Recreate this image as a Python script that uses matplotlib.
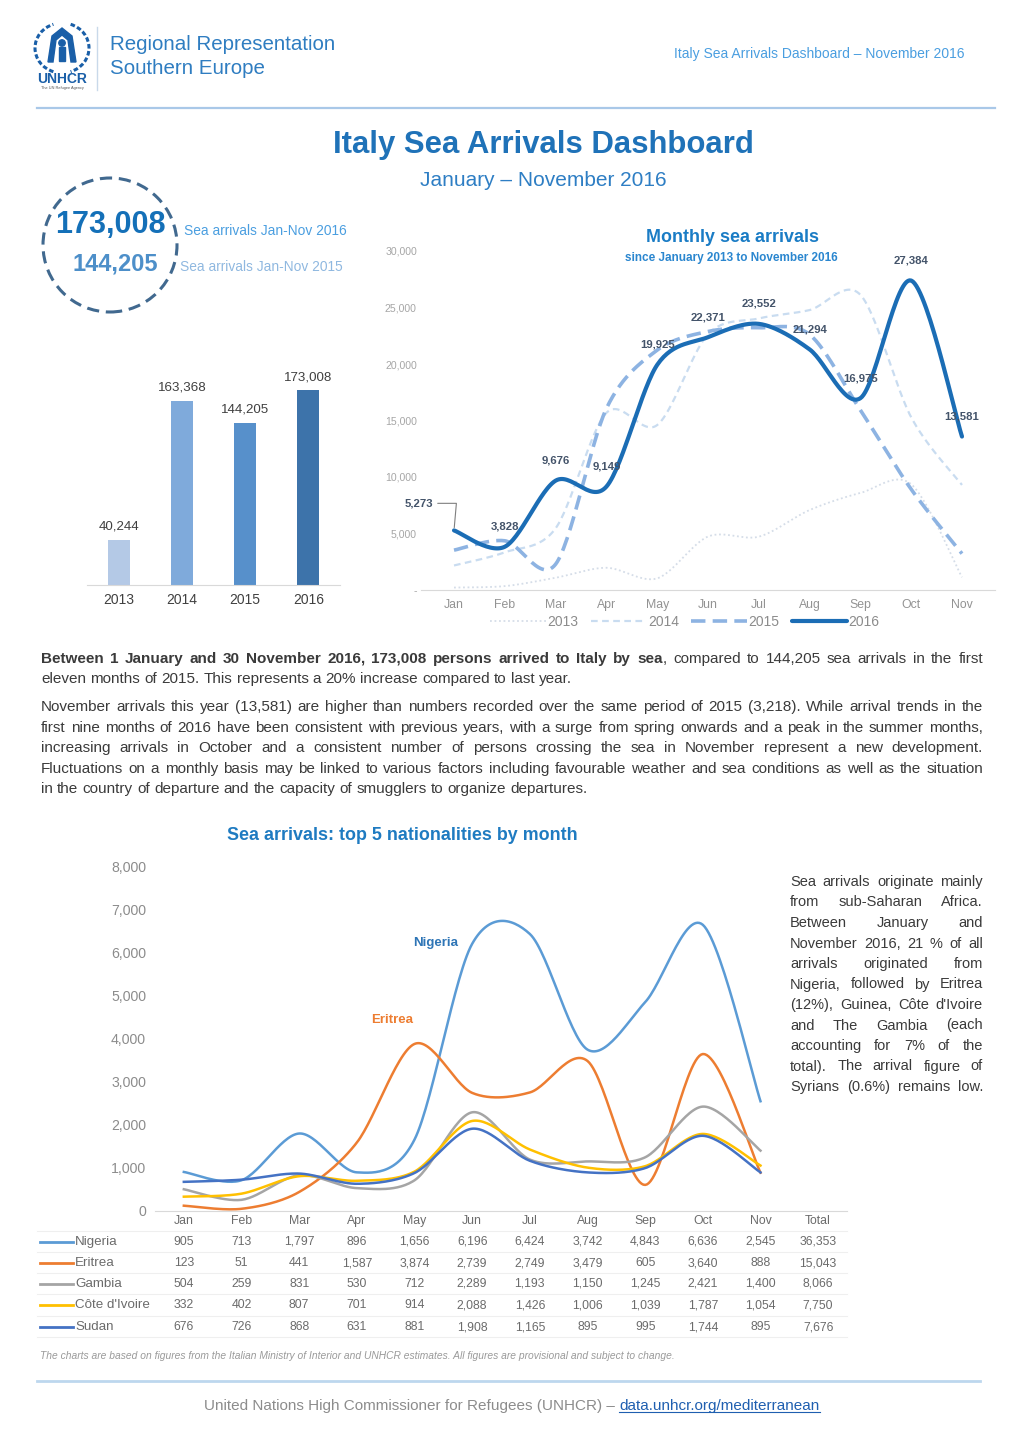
import matplotlib
matplotlib.use('Agg')
import matplotlib.pyplot as plt
import numpy as np
from matplotlib import font_manager as fm
from matplotlib.patches import Ellipse, Arc, Polygon, Circle, Rectangle
from matplotlib.lines import Line2D
import matplotlib.transforms as mtrans


def has_font(name):
    try:
        fm.findfont(fm.FontProperties(family=name), fallback_to_default=False)
        return True
    except Exception:
        return False


SANS = 'Liberation Sans' if has_font('Liberation Sans') else 'DejaVu Sans'
NARROW = 'Liberation Sans Narrow' if has_font('Liberation Sans Narrow') else SANS
plt.rcParams['font.family'] = [SANS, 'DejaVu Sans']

# ---------------- data ----------------
months = ['Jan', 'Feb', 'Mar', 'Apr', 'May', 'Jun', 'Jul', 'Aug', 'Sep', 'Oct', 'Nov']
years = ['2013', '2014', '2015', '2016']
annual_totals = [40244, 163368, 144205, 173008]

arrivals_2013 = [217, 344, 1084, 1968, 1030, 4730, 4718, 7076, 8587, 9361, 1129]
arrivals_2014 = [2171, 3335, 5459, 15679, 14599, 22641, 24031, 24774, 26122, 15282, 9295]
arrivals_2015 = [3528, 4354, 2283, 16063, 21231, 22877, 23210, 22610, 15922, 8916, 3218]
arrivals_2016 = [5273, 3828, 9676, 9149, 19925, 22371, 23552, 21294, 16975, 27384, 13581]

nationalities = ['Nigeria', 'Eritrea', 'Gambia', "Côte d'Ivoire", 'Sudan']
nigeria = [905, 713, 1797, 896, 1656, 6196, 6424, 3742, 4843, 6636, 2545]
eritrea = [123, 51, 441, 1587, 3874, 2739, 2749, 3479, 605, 3640, 888]
gambia = [504, 259, 831, 530, 712, 2289, 1193, 1150, 1245, 2421, 1400]
cote_divoire = [332, 402, 807, 701, 914, 2088, 1426, 1006, 1039, 1787, 1054]
sudan = [676, 726, 868, 631, 881, 1908, 1165, 895, 995, 1744, 895]
nat_totals = [36353, 15043, 8066, 7750, 7676]

# ---------------- helpers ----------------
W, H = 1024, 1449
fig = plt.figure(figsize=(W / 100, H / 100), dpi=100)
fig.patch.set_facecolor('white')
renderer = fig.canvas.get_renderer()


def fx(x):
    return x / W


def fy(y):
    return 1 - y / H


def T(x, y, s, **kw):
    return fig.text(fx(x), fy(y), s, **kw)


def axpx(l, t, r, b):
    return fig.add_axes([l / W, 1 - b / H, (r - l) / W, (b - t) / H])


def hline(x0, x1, y, **kw):
    fig.add_artist(Line2D([fx(x0), fx(x1)], [fy(y), fy(y)], transform=fig.transFigure, **kw))


def smooth(y, n=30, k=6.5):
    y = np.asarray(y, float)
    x = np.arange(len(y), dtype=float)
    P = np.column_stack([x, y])
    xs, ys = [], []
    m = len(y)
    for i in range(m - 1):
        p0 = P[max(i - 1, 0)]
        p1 = P[i]
        p2 = P[i + 1]
        p3 = P[min(i + 2, m - 1)]
        c1 = p1 + (p2 - p0) / k
        c2 = p2 - (p3 - p1) / k
        t = np.linspace(0, 1, n, endpoint=(i == m - 2))[:, None]
        b = (1 - t) ** 3 * p1 + 3 * (1 - t) ** 2 * t * c1 + 3 * (1 - t) * t ** 2 * c2 + t ** 3 * p2
        xs.append(b[:, 0])
        ys.append(b[:, 1])
    return np.concatenate(xs), np.concatenate(ys)


def text_w(s, **kw):
    t = fig.text(0, 0, s, **kw)
    w = t.get_window_extent(renderer).width
    t.remove()
    return w


def place_line(segs, x0, x1, y, size, family, justify=True, color='#404040'):
    words = []
    for text, wt in segs:
        parts = text.split(' ')
        for k, p in enumerate(parts):
            if p == '':
                continue
            if k == 0 and words and not text.startswith(' '):
                words[-1].append((p, wt))
            else:
                words.append([(p, wt)])
    objs = []
    total = 0
    for wd in words:
        row = []
        for p, wt in wd:
            t = fig.text(0, fy(y), p, fontsize=size, family=family, weight=wt,
                         color=color, va='baseline', ha='left')
            w = t.get_window_extent(renderer).width
            row.append((t, w))
            total += w
        objs.append(row)
    if justify and len(words) > 1:
        gap = (x1 - x0 - total) / (len(words) - 1)
    else:
        gap = text_w('a a', fontsize=size, family=family) - text_w('aa', fontsize=size, family=family)
    x = x0
    for row in objs:
        for t, w in row:
            t.set_x(fx(x))
            x += w
        x += gap


# ---------------- header ----------------
axl = axpx(30, 22, 96, 92)
axl.set_xlim(30, 96)
axl.set_ylim(92, 22)
axl.axis('off')
blue_logo = '#1a5fa8'
axl.add_patch(Arc((62, 48), 54, 50, theta1=110, theta2=250, lw=2.2, color=blue_logo, ls=(0, (1.5, 0.8))))
axl.add_patch(Arc((62, 48), 54, 50, theta1=-70, theta2=70, lw=2.2, color=blue_logo, ls=(0, (1.5, 0.8))))
axl.add_patch(Polygon([(48, 62), (52, 36), (62, 28), (72, 36), (76, 62), (71, 62), (68, 40), (62, 35),
                       (56, 40), (53, 62)], closed=True, color=blue_logo))
axl.add_patch(Circle((62, 43), 3.2, color=blue_logo))
axl.add_patch(Rectangle((59, 47), 6, 14, color=blue_logo))
axl.text(62, 79, 'UNHCR', ha='center', va='center', fontsize=10, weight='bold', color=blue_logo, family=SANS)
axl.text(62, 87.5, 'The UN Refugee Agency', ha='center', va='center', fontsize=2.8, color='#555555')
fig.add_artist(Line2D([fx(97), fx(97)], [fy(27), fy(90)], transform=fig.transFigure, color='#c9d9ea', lw=1))

T(110, 45, 'Regional Representation', fontsize=14.8, color='#2f7dc1', va='center', family=SANS)
T(110, 68, 'Southern Europe', fontsize=14.8, color='#2f7dc1', va='center', family=SANS)
T(964, 54, 'Italy Sea Arrivals Dashboard \u2013 November 2016', fontsize=10, color='#4a9ee0',
  ha='right', va='center', family=SANS)
hline(37, 995, 108, color='#a9c8e8', lw=1.6)

T(543, 145, 'Italy Sea Arrivals Dashboard', fontsize=22.4, weight='bold', color='#1f72b8',
  ha='center', va='center', family=SANS)
T(543, 181, 'January \u2013 November 2016', fontsize=15, color='#2e7ec4', ha='center', va='center', family=SANS)

# circle + key figures
fig.add_artist(Ellipse((fx(110), fy(245)), 134 / W, 134 / H, transform=fig.transFigure, fill=False,
                       ls=(0, (4, 2.2)), lw=2.2, ec='#41698f'))
T(110, 225, '173,008', fontsize=22, weight='bold', color='#1470b8', ha='center', va='center', family=SANS)
T(115, 264, '144,205', fontsize=17, weight='bold', color='#4d8fc9', ha='center', va='center', family=SANS)
T(184, 231, 'Sea arrivals Jan-Nov 2016', fontsize=9.9, color='#4a9ee0', ha='left', va='center', family=SANS)
T(180, 267, 'Sea arrivals Jan-Nov 2015', fontsize=9.9, color='#8fb8e0', ha='left', va='center', family=SANS)

# ---------------- annual bar chart ----------------
ax1 = axpx(87, 345, 340, 585)
bar_colors = ['#b4c9e6', '#7faadb', '#5790cb', '#3d73aa']
xb = np.arange(len(years))
ax1.bar(xb, annual_totals, width=0.35, color=bar_colors)
for i, v in enumerate(annual_totals):
    ax1.annotate(f'{v:,}', (xb[i], v), xytext=(0, 5), textcoords='offset points', ha='center',
                 va='bottom', fontsize=9.6, color='#404040', family=SANS)
ax1.set_xlim(-0.5, 3.5)
ax1.set_ylim(0, 213000)
ax1.set_xticks(xb)
ax1.set_xticklabels(years)
ax1.tick_params(axis='x', length=0, labelsize=10, labelcolor='#404040', pad=5.5)
ax1.set_yticks([])
for s in ['top', 'right', 'left']:
    ax1.spines[s].set_visible(False)
ax1.spines['bottom'].set_color('#d9d9d9')
ax1.patch.set_alpha(0)

# ---------------- monthly line chart ----------------
ax2 = axpx(421, 251, 995, 590)
ax2.set_xlim(-0.65, 10.65)
ax2.set_ylim(0, 30000)
series = [
    ('2013', arrivals_2013, dict(color='#d5dde8', lw=1.3, ls=(0, (1, 1.5)))),
    ('2014', arrivals_2014, dict(color='#c9dcf0', lw=1.6, ls=(0, (3, 2)))),
    ('2015', arrivals_2015, dict(color='#8db3e2', lw=2.6, ls=(0, (4, 2)))),
    ('2016', arrivals_2016, dict(color='#1b6db5', lw=3.0, ls='-')),
]
for name, vals, st in series:
    sx, sy = smooth(vals)
    ax2.plot(sx, sy, label=name, solid_capstyle='round', **st)
lab_kw = dict(fontsize=8.2, weight='bold', color='#44546a', ha='center', va='center', family=SANS)
for i, v in enumerate(arrivals_2016):
    if i == 0:
        ax2.annotate(f'{v:,}', (i, v), xytext=(-25, 19.5), textcoords='offset points',
                     arrowprops=dict(arrowstyle='-', color='#7f7f7f', lw=0.8,
                                     connectionstyle='angle,angleA=0,angleB=85,rad=0',
                                     shrinkA=1, shrinkB=2), **lab_kw)
    else:
        ax2.annotate(f'{v:,}', (i, v), xytext=(0, 14.5), textcoords='offset points', **lab_kw)
ax2.set_xticks(range(len(months)))
ax2.set_xticklabels(months)
ax2.tick_params(axis='x', length=0, labelsize=8.8, labelcolor='#939393', pad=6.5)
yt = list(range(0, 30001, 5000))
ax2.set_yticks(yt)
ax2.set_yticklabels(['-' if v == 0 else f'{v:,}' for v in yt])
ax2.tick_params(axis='y', length=0, labelsize=7.6, labelcolor='#a6a6a6', pad=3)
for s in ['top', 'right', 'left']:
    ax2.spines[s].set_visible(False)
ax2.spines['bottom'].set_color('#d9d9d9')
ax2.patch.set_alpha(0)
leg = ax2.legend(ncol=4, loc='center', bbox_to_anchor=(0.46, -0.094), frameon=False, handlelength=4.0,
                 fontsize=10, labelcolor='#8c8c8c', columnspacing=0.9, handletextpad=0.1)
T(732, 238, 'Monthly sea arrivals', fontsize=12.9, weight='bold', color='#1a7cc5', ha='center',
  va='center', family=SANS)
T(731, 258, 'since January 2013 to November 2016', fontsize=8.5, weight='bold', color='#2a86cf',
  ha='center', va='center', family=SANS)

# ---------------- paragraph ----------------
PF = SANS
PS = 11.0
X0, X1 = 41, 983
para = [
    ([('Between 1 January and 30 November 2016, 173,008 persons arrived to Italy by sea', 'bold'),
      (', compared to 144,205 sea arrivals in the first', 'normal')], 663, True),
    ([('eleven months of 2015. This represents a 20% increase compared to last year.', 'normal')], 683, False),
    ([('November arrivals this year (13,581) are higher than numbers recorded over the same period of 2015 '
       '(3,218). While arrival trends in the', 'normal')], 711, True),
    ([('first nine months of 2016 have been consistent with previous years, with a surge from spring onwards '
       'and a peak in the summer months,', 'normal')], 732, True),
    ([('increasing arrivals in October and a consistent number of persons crossing the sea in November '
       'represent a new development.', 'normal')], 752, True),
    ([('Fluctuations on a monthly basis may be linked to various factors including favourable weather and '
       'sea conditions as well as the situation', 'normal')], 773, True),
    ([('in the country of departure and the capacity of smugglers to organize departures.', 'normal')], 793, False),
]
for segs, yb, just in para:
    place_line(segs, X0, X1, yb, PS, PF, justify=just, color='#3a3a3a')

# ---------------- nationalities chart ----------------
T(402, 835, 'Sea arrivals: top 5 nationalities by month', fontsize=12.9, weight='bold', color='#1f7bc1',
  ha='center', va='center', family=SANS)
ax3 = axpx(155, 866, 847, 1211)
ax3.set_xlim(-0.5, 11.5)
ax3.set_ylim(0, 8000)
nat_series = [nigeria, eritrea, gambia, cote_divoire, sudan]
nat_colors = ['#5b9bd5', '#ed7d31', '#a5a5a5', '#ffc000', '#4472c4']
for vals, c in zip(nat_series, nat_colors):
    sx, sy = smooth(vals)
    ax3.plot(sx, sy, color=c, lw=1.8)
ax3.set_xticks([])
yt3 = list(range(0, 8001, 1000))
ax3.set_yticks(yt3)
ax3.set_yticklabels([f'{v:,}' for v in yt3])
ax3.tick_params(axis='y', length=0, labelsize=10.2, labelcolor='#8c8c8c', pad=6.5)
for s in ['top', 'right', 'left']:
    ax3.spines[s].set_visible(False)
ax3.spines['bottom'].set_color('#d9d9d9')
ax3.patch.set_alpha(0)
ax3.text(4.36, 6220, 'Nigeria', fontsize=9.5, weight='bold', color='#2e75b6', ha='center', va='center', family=NARROW)
ax3.text(3.61, 4430, 'Eritrea', fontsize=9.5, weight='bold', color='#ed7d31', ha='center', va='center', family=NARROW)

# data table
blend = mtrans.blended_transform_factory(ax3.transData, fig.transFigure)
TS = 9.6 if NARROW != SANS else 8.8
cols = months + ['Total']
for j, m in enumerate(cols):
    ax3.text(j, fy(1221), m, transform=blend, ha='center', va='center', fontsize=TS, color='#6b6b6b',
             family=NARROW, clip_on=False)
row_y = [1242, 1263, 1284, 1305, 1327]
for r, (name, vals, c, tot) in enumerate(zip(nationalities, nat_series, nat_colors, nat_totals)):
    yy = row_y[r]
    fig.add_artist(Line2D([fx(40), fx(73)], [fy(yy), fy(yy)], transform=fig.transFigure, color=c, lw=2))
    T(75, yy, name, ha='left', va='center', fontsize=TS + 0.8, color='#6b6b6b', family=NARROW)
    for j, v in enumerate(list(vals) + [tot]):
        ax3.text(j, fy(yy), f'{v:,}', transform=blend, ha='center', va='center', fontsize=TS,
                 color='#6b6b6b', family=NARROW, clip_on=False)
for yy in [1231, 1252, 1273, 1294, 1316, 1337]:
    hline(37, 847, yy, color='#efefef', lw=0.8)

# right text block
RS = 10.5
right_lines = [
    'Sea arrivals originate mainly',
    'from sub-Saharan Africa.',
    'Between January and',
    'November 2016, 21 % of all',
    'arrivals originated from',
    'Nigeria, followed by Eritrea',
    "(12%), Guinea, Côte d'Ivoire",
    'and The Gambia (each',
    'accounting for 7% of the',
    'total). The arrival figure of',
    'Syrians (0.6%) remains low.',
]
for k, ln in enumerate(right_lines):
    place_line([(ln, 'normal')], 790, 983, 886 + k * 20.5, RS, SANS, justify=True, color='#3a3a3a')

# source note and footer
T(40, 1356, 'The charts are based on figures from the Italian Ministry of Interior and UNHCR estimates. '
  'All figures are provisional and subject to change.', fontsize=7.4, style='italic', color='#9a9a9a',
  ha='left', va='center', family=SANS)
hline(37, 980, 1381, color='#bdd7ee', lw=2)

f1 = 'United Nations High Commissioner for Refugees (UNHCR) \u2013 '
f2 = 'data.unhcr.org/mediterranean'
FS = 11.0
w1 = text_w(f1, fontsize=FS, family=SANS)
w2 = text_w(f2, fontsize=FS, family=SANS)
xs = 512 - (w1 + w2) / 2
T(xs, 1410, f1, fontsize=FS, family=SANS, color='#8c8c8c', ha='left', va='baseline')
T(xs + w1, 1410, f2, fontsize=FS, family=SANS, color='#1f5fb0', ha='left', va='baseline')
hline(xs + w1, xs + w1 + w2, 1412, color='#1f5fb0', lw=0.8)

fig.savefig('out.png', dpi=100, facecolor='white')
